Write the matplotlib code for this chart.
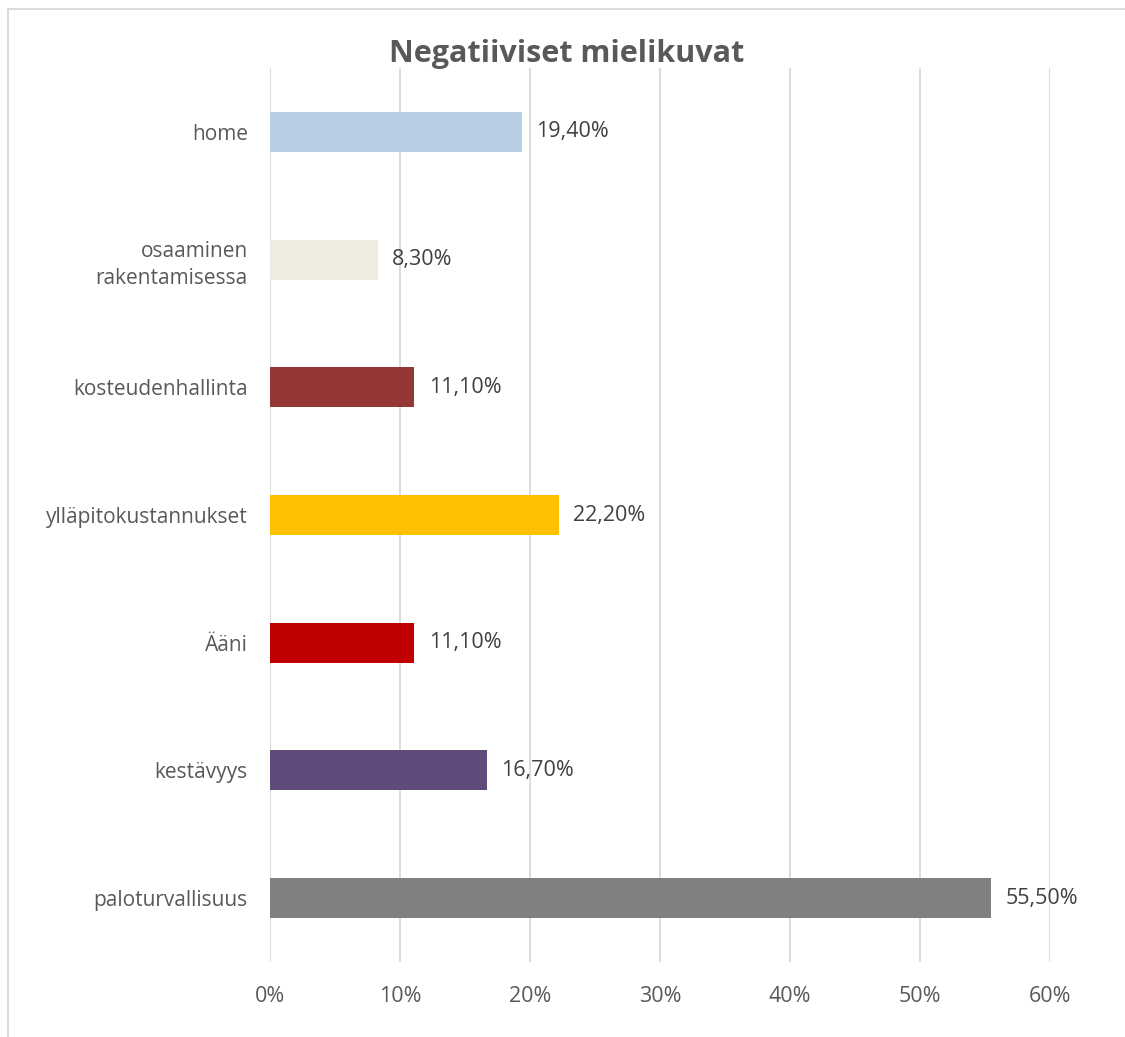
import matplotlib.pyplot as plt
from matplotlib.lines import Line2D
from matplotlib.ticker import MultipleLocator, FuncFormatter

plt.rcParams["font.family"] = ["Open Sans", "DejaVu Sans"]

# top to bottom as in the picture
categories = ["home", "osaaminen\nrakentamisessa", "kosteudenhallinta",
              "ylläpitokustannukset", "Ääni", "kestävyys", "paloturvallisuus"]
values = [19.4, 8.3, 11.1, 22.2, 11.1, 16.7, 55.5]
colors = ["#B9CDE5", "#EEECE1", "#953735", "#FFC000", "#C00000", "#604A7B", "#808080"]
value_labels = ["19,40%", "8,30%", "11,10%", "22,20%", "11,10%", "16,70%", "55,50%"]

TEXT = "#595959"
GRID = "#D9D9D9"

fig = plt.figure(figsize=(11.25, 10.37), dpi=100)
ax = fig.add_axes([0.24, 0.0723, 0.6933, 0.8621])

ypos = list(range(len(categories)))
ax.barh(ypos, values, height=0.313, color=colors, zorder=3)
for y, v, lab in zip(ypos, values, value_labels):
    ax.text(v + 1.1, y, lab, va="center", ha="left", fontsize=15.5, color="#404040")

ax.set_xlim(0, 60)
ax.set_ylim(len(categories) - 0.5, -0.5)
ax.xaxis.set_major_locator(MultipleLocator(10))
ax.xaxis.set_major_formatter(FuncFormatter(lambda x, _: f"{x:.0f}%"))
ax.set_yticks(ypos)
ax.set_yticklabels(categories, fontsize=15, color=TEXT, linespacing=1.4)
ax.tick_params(axis="x", labelsize=15.5, colors=TEXT, length=0, pad=17)
ax.tick_params(axis="y", length=0, pad=16)
ax.grid(axis="x", color=GRID, linewidth=1.3, zorder=0)
for s in ax.spines.values():
    s.set_visible(False)

fig.text(0.504, 0.948, "Negatiiviset mielikuvat", ha="center", va="center",
         fontsize=22, fontweight="bold", color=TEXT)

# chart frame (right/bottom edges fall outside the image)
fig.add_artist(Line2D([0.0075, 1.0], [0.9915, 0.9915], color="#D9D9D9", lw=1.3))
fig.add_artist(Line2D([0.0075, 0.0075], [0.0, 0.9915], color="#D9D9D9", lw=1.3))

fig.savefig("out.png", dpi=100)
